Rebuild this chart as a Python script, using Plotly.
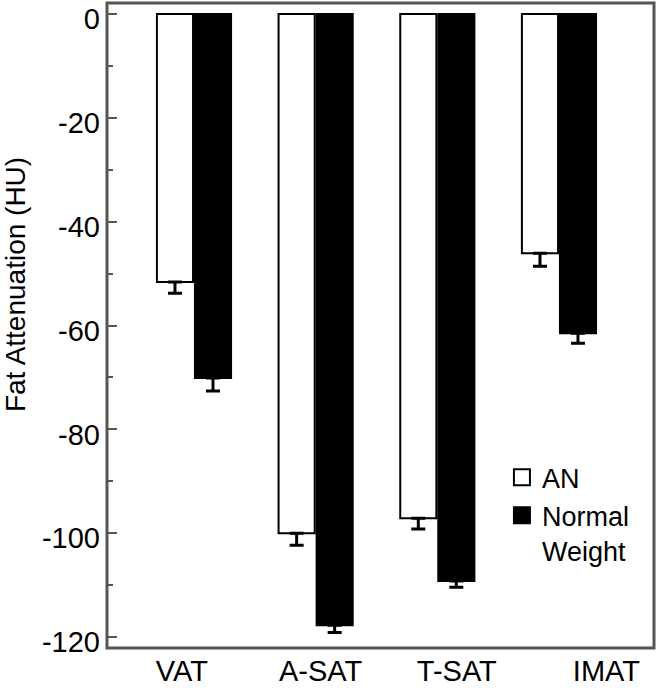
import plotly.graph_objects as go

categories = ["VAT", "A-SAT", "T-SAT", "IMAT"]
an_values = [-51.6, -100.0, -97.1, -46.1]
an_errors = [2.2, 2.3, 2.1, 2.5]
nw_values = [-70.1, -117.7, -109.2, -61.5]
nw_errors = [2.5, 1.4, 1.2, 1.9]
y_tick_values = [0, -20, -40, -60, -80, -100, -120]
y_tick_labels = ["0", "-20", "-40", "-60", "-80", "-100", "-120"]
x_label_positions = [-0.10, 1.04, 2.16, 3.39]

FONT = "Liberation Sans, Arial, sans-serif"
FRAME = "#555555"
positions = list(range(len(categories)))

fig = go.Figure()
fig.add_trace(go.Bar(
    x=positions, y=an_values, name="AN", showlegend=False,
    marker=dict(color="white", line=dict(color="black", width=2)),
    error_y=dict(type="data", symmetric=False, array=[0] * 4, arrayminus=an_errors,
                 color="black", thickness=3, width=7),
))
fig.add_trace(go.Bar(
    x=positions, y=nw_values, name="Normal Weight", showlegend=False,
    marker=dict(color="black", line=dict(color="black", width=2)),
    error_y=dict(type="data", symmetric=False, array=[0] * 4, arrayminus=nw_errors,
                 color="black", thickness=3, width=7),
))
# legend entries
fig.add_trace(go.Scatter(
    x=[None], y=[None], mode="markers", name="AN",
    marker=dict(symbol="square", size=22, color="white", line=dict(color="black", width=2)),
))
fig.add_trace(go.Scatter(
    x=[None], y=[None], mode="markers", name="Normal<br>Weight",
    marker=dict(symbol="square", size=22, color="black", line=dict(color="black", width=2)),
))

fig.update_layout(
    width=658, height=694,
    margin=dict(l=107, r=4, t=3, b=46, autoexpand=False),
    paper_bgcolor="white", plot_bgcolor="white",
    barmode="group", bargap=0.375, bargroupgap=0.05,
    font=dict(family=FONT, size=29, color="black"),
    showlegend=True,
    legend=dict(x=0.722, y=0.302, xanchor="left", yanchor="top",
                bgcolor="rgba(0,0,0,0)", font=dict(size=27, family=FONT),
                valign="top", tracegroupgap=0, itemsizing="trace"),
    xaxis=dict(range=[-0.715, 3.781], tickmode="array", tickvals=x_label_positions,
               ticktext=categories, ticks="", showgrid=False, zeroline=False,
               showline=False,
               tickfont=dict(size=29, family=FONT), ticklabelstandoff=3,
               ticklabeloverflow="allow", automargin=False),
    yaxis=dict(range=[-122.1, 2.1], tickmode="array", tickvals=y_tick_values,
               ticktext=y_tick_labels, ticks="inside", ticklen=10, tickwidth=2,
               tickcolor=FRAME, showgrid=False, zeroline=False,
               showline=False,
               tickfont=dict(size=29, family=FONT), ticklabelstandoff=6,
               ticklabelshift=5,
               ticklabeloverflow="allow", automargin=False,
               minor=dict(tickmode="linear", tick0=0, dtick=10, ticks="inside",
                          ticklen=6, tickwidth=2, tickcolor=FRAME, showgrid=False)),
    shapes=[dict(type="rect", xref="paper", yref="paper", x0=0, x1=1, y0=0, y1=1,
                 line=dict(color=FRAME, width=3), fillcolor="rgba(0,0,0,0)",
                 layer="above")],
    annotations=[dict(text="Fat Attenuation (HU)", textangle=-90, showarrow=False,
                      xref="paper", yref="paper", x=-0.166, y=0.563,
                      xanchor="center", yanchor="middle",
                      font=dict(size=28, family=FONT, color="black"))],
)

fig.write_html("out.html", config={"displayModeBar": False},
               post_script="document.body.style.margin='0';")
